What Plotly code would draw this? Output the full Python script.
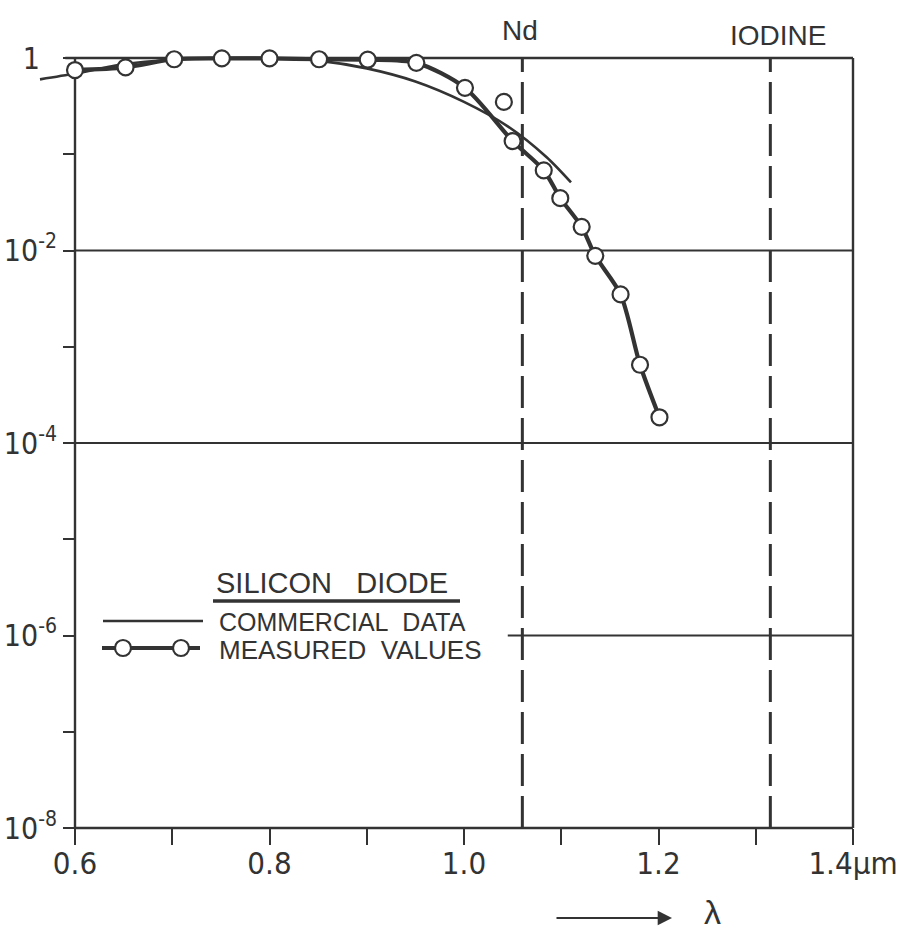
import plotly.graph_objects as go

# ---------------- data ----------------
measured_x = [0.600, 0.652, 0.702, 0.751, 0.800, 0.851, 0.901, 0.951, 1.001,
              1.041, 1.050, 1.082, 1.099, 1.121, 1.135, 1.161, 1.181, 1.201]
measured_y = [0.75, 0.80, 0.97, 0.99, 0.99, 0.97, 0.96, 0.89, 0.49,
              0.35, 0.137, 0.068, 0.035, 0.0176, 0.0088, 0.0035, 6.5e-4, 1.85e-4]
# the measured curve skips the stray point at 1.04 µm
measured_on_curve = [True, True, True, True, True, True, True, True, True,
                     False, True, True, True, True, True, True, True, True]

commercial_x = [0.564, 0.600, 0.650, 0.700, 0.750, 0.800, 0.850, 0.900,
                0.950, 1.000, 1.045, 1.085, 1.110]
commercial_y = [0.60, 0.69, 0.86, 0.96, 1.00, 1.00, 0.94, 0.78,
                0.57, 0.35, 0.195, 0.093, 0.051]

laser_lines = [1.060, 1.315]
laser_names = ["Nd", "IODINE"]

x_tickvals = [0.6, 0.7, 0.8, 0.9, 1.0, 1.1, 1.2, 1.3, 1.4]
x_ticktext = ["0.6", " ", "0.8", " ", "1.0", " ", "1.2", " ", "1.4\u00b5m"]
y_tickvals = [1e-8, 1e-7, 1e-6, 1e-5, 1e-4, 1e-3, 1e-2, 1e-1, 1]
y_ticktext = ["10<sup>-8</sup>", " ", "10<sup>-6</sup>", " ", "10<sup>-4</sup>", " ",
              "10<sup>-2</sup>", " ", "1\u2007"]

# ---------------- layout geometry ----------------
W, H = 920, 933
ML, MR, MT, MB = 25, 45, 48, 105
PW, PH = W - ML - MR, H - MT - MB
X0PX, X1PX = 75, 853            # pixel of x=0.6 and x=1.4
pxu = (X1PX - X0PX) / 0.8
xr = [0.6 - (X0PX - ML) / pxu, 1.4 + (W - MR - X1PX) / pxu]
Y1PX, Y0PX = 58, 828            # pixel of y=1 and y=1e-8
dec = (Y0PX - Y1PX) / 8.0
yr = [-8, (Y1PX - MT) / dec]

def px(x):
    return (x - ML) / PW

def py(y):
    return (H - MB - y) / PH

def dx(x):          # data x -> paper
    return (x - xr[0]) / (xr[1] - xr[0])

def dy(ly):         # log10(y) -> paper
    return (ly - yr[0]) / (yr[1] - yr[0])

INK = "#333333"
FONT = "Liberation Sans Narrow, Arial Narrow, DejaVu Sans Condensed, sans-serif"
FONT2 = "Liberation Sans, Arial, sans-serif"

fig = go.Figure()

fig.add_trace(go.Scatter(
    x=commercial_x, y=commercial_y, mode="lines",
    line=dict(color=INK, width=2.6, shape="spline", smoothing=0.8),
    hoverinfo="skip", showlegend=False))

cx = [x for x, f in zip(measured_x, measured_on_curve) if f]
cy = [y for y, f in zip(measured_y, measured_on_curve) if f]
fig.add_trace(go.Scatter(
    x=cx, y=cy, mode="lines",
    line=dict(color=INK, width=4.2, shape="spline", smoothing=0.8),
    hoverinfo="skip", showlegend=False))

fig.add_trace(go.Scatter(
    x=measured_x, y=measured_y, mode="markers",
    marker=dict(size=16, color="white", line=dict(color=INK, width=2.2)),
    cliponaxis=False, showlegend=False))

shapes = []
def hline(x0, x1, ylog, w):
    shapes.append(dict(type="line", xref="paper", yref="paper",
                       x0=dx(x0), x1=dx(x1), y0=dy(ylog), y1=dy(ylog),
                       line=dict(color=INK, width=w), layer="below"))

def vline(x, y0, y1, w, dash=None):
    shapes.append(dict(type="line", xref="paper", yref="paper",
                       x0=dx(x), x1=dx(x), y0=dy(y0), y1=dy(y1),
                       line=dict(color=INK, width=w, dash=dash), layer="below"))

vline(0.6, -8, 0, 2.4)
vline(1.4, -8, 0, 2.4)
hline(0.6, 1.4, -8, 2.4)
hline(0.59, 1.4, 0, 2.4)
hline(0.6, 1.4, -2, 1.8)
hline(0.6, 1.4, -4, 1.8)
hline(1.045, 1.4, -6, 1.8)
for xl in laser_lines:
    vline(xl, -8, 0, 3, dash="32px,10px")

# legend (drawn by hand, as in the original)
shapes.append(dict(type="line", xref="paper", yref="paper", x0=px(213), x1=px(460),
                   y0=py(601), y1=py(601), line=dict(color=INK, width=3.5)))
shapes.append(dict(type="line", xref="paper", yref="paper", x0=px(103), x1=px(203),
                   y0=py(621), y1=py(621), line=dict(color=INK, width=2.6)))
shapes.append(dict(type="line", xref="paper", yref="paper", x0=px(102), x1=px(200),
                   y0=py(648), y1=py(648), line=dict(color=INK, width=4.2)))
for c in (123, 181):
    shapes.append(dict(type="circle", xref="paper", yref="paper",
                       x0=px(c - 8), x1=px(c + 8), y0=py(648 + 8), y1=py(648 - 8),
                       fillcolor="white", line=dict(color=INK, width=2.2)))

annotations = [
    dict(text="SILICON\u00a0\u00a0\u00a0DIODE", x=px(214), y=py(583), xref="paper", yref="paper",
         xanchor="left", yanchor="middle", showarrow=False,
         font=dict(family=FONT2, size=29, color=INK)),
    dict(text="COMMERCIAL\u00a0\u00a0DATA", x=px(217), y=py(622), xref="paper", yref="paper",
         xanchor="left", yanchor="middle", showarrow=False,
         font=dict(family=FONT2, size=25, color=INK)),
    dict(text="MEASURED\u00a0\u00a0VALUES", x=px(217), y=py(650), xref="paper", yref="paper",
         xanchor="left", yanchor="middle", showarrow=False,
         font=dict(family=FONT2, size=26, color=INK)),
    dict(text="", x=px(672), y=py(918), ax=-117, ay=0, xref="paper", yref="paper",
         showarrow=True, arrowhead=2, arrowsize=1.3, arrowwidth=2.2, arrowcolor=INK),
    dict(text="\u03bb", x=px(712), y=py(912), xref="paper", yref="paper",
         xanchor="center", yanchor="middle", showarrow=False,
         font=dict(family=FONT2, size=34, color=INK)),
]
label_px = [(520, 30), (778, 35)]
for name, (lx, ly) in zip(laser_names, label_px):
    annotations.append(dict(text=name, x=px(lx), y=py(ly), xref="paper", yref="paper",
                            xanchor="center", yanchor="middle", showarrow=False,
                            font=dict(family=FONT2, size=28, color=INK)))

fig.update_layout(
    width=W, height=H,
    margin=dict(l=ML, r=MR, t=MT, b=MB, autoexpand=False),
    paper_bgcolor="white", plot_bgcolor="rgba(0,0,0,0)",
    showlegend=False,
    shapes=shapes, annotations=annotations,
    xaxis=dict(range=xr, showgrid=False, zeroline=False, showline=False,
               automargin=False,
               tickvals=x_tickvals, ticktext=x_ticktext,
               ticks="outside", ticklen=16, tickwidth=2, tickcolor=INK,
               ticklabelstandoff=-8,
               tickfont=dict(family=FONT, size=31, color=INK)),
    yaxis=dict(type="log", range=yr, showgrid=False, zeroline=False, showline=False,
               anchor="free", position=px(X0PX), automargin=False,
               tickvals=y_tickvals, ticktext=y_ticktext,
               ticks="outside", ticklen=12, tickwidth=2, tickcolor=INK,
               tickfont=dict(family=FONT, size=30, color=INK)),
)

fig.write_html("out.html", config={"displayModeBar": False},
               post_script="document.body.style.margin='0';document.body.style.overflow='hidden';")
